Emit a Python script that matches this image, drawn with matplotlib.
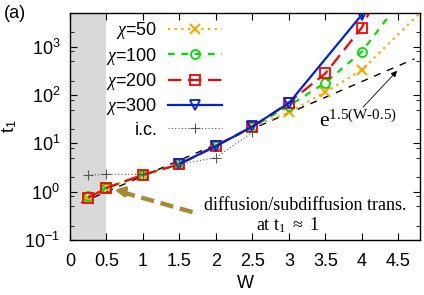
import numpy as np
import matplotlib.pyplot as plt
from matplotlib.ticker import LogLocator, NullFormatter

plt.rcParams['font.family'] = ['Liberation Sans', 'DejaVu Sans']
plt.rcParams['mathtext.fontset'] = 'custom'
plt.rcParams['mathtext.rm'] = 'Liberation Serif'
plt.rcParams['mathtext.it'] = 'Liberation Serif:italic'
plt.rcParams['mathtext.sf'] = 'Liberation Sans'

# data
w_50 = [0.25, 0.5, 1, 1.5, 2, 2.5, 3, 3.5, 4, 5]
t_50 = [0.75, 1.2, 2.25, 3.7, 9, 22, 44, 115, 330, 1.0e4]
w_100 = [0.25, 0.5, 1, 1.5, 2, 2.5, 3, 3.5, 4, 5]
t_100 = [0.8, 1.2, 2.25, 3.7, 9, 22, 60, 180, 790, 7.5e4]
w_200 = [0.25, 0.5, 1, 1.5, 2, 2.5, 3, 3.5, 4, 5]
t_200 = [0.75, 1.2, 2.25, 3.7, 9, 22, 70, 280, 2500, 3.0e6]
w_300 = [1.5, 2, 2.5, 3, 4]
t_300 = [3.8, 8.7, 22.5, 68, 4600]
w_ic = [0.25, 0.5, 1, 1.5, 2, 2.5]
t_ic = [2.2, 2.3, 2.3, 3.7, 5.1, 17]

w_fit = np.linspace(0.15, 4.72, 100)
t_fit = np.exp(1.5 * (w_fit - 0.5))

fig = plt.figure(figsize=(4.24, 2.95), dpi=100)
ax = fig.add_axes([0.165, 0.186, 0.826, 0.770])

ax.axvspan(0, 0.5, color='#d9d9d9', lw=0, zorder=0)

ax.plot(w_fit, t_fit, color='black', ls=(0, (5, 5)), lw=1.0, zorder=1)
ax.plot(w_50, t_50, color='orange', ls=(0, (1, 2)), lw=1.6, marker='x',
        ms=7, mew=1.5, label=r'$\chi$=50')
ax.plot(w_100, t_100, color='#00e000', ls=(0, (3, 3)), lw=1.6, marker='o',
        ms=6.5, mfc='none', mew=1.3, label=r'$\chi$=100')
ax.plot(w_200, t_200, color='#ff0000', ls=(0, (6, 3)), lw=1.6, marker='s',
        ms=7, mfc='none', mew=1.3, label=r'$\chi$=200')
ax.plot(w_300, t_300, color='#0022dd', ls='-', lw=1.6, marker='v',
        ms=7, mfc='none', mew=1.3, label=r'$\chi$=300')
ax.plot(w_ic, t_ic, color='#555555', ls=(0, (1, 2)), lw=0.8, marker='+',
        ms=7, mew=0.8, label='i.c.')

ax.set_yscale('log')
ax.set_xlim(0, 4.8)
ax.set_ylim(0.1, 5000)
ax.set_xticks(np.arange(0, 5, 0.5))
ax.set_xticklabels(['0', '0.5', '1', '1.5', '2', '2.5', '3', '3.5', '4', '4.5'])
ax.yaxis.set_major_locator(LogLocator(base=10, numticks=10))
ax.yaxis.set_minor_locator(LogLocator(base=10, subs=[2, 5, 8], numticks=10))
ax.yaxis.set_minor_formatter(NullFormatter())
ax.tick_params(which='both', direction='in', top=True, right=True,
               labelsize=13)
ax.tick_params(axis='x', pad=9)
ax.tick_params(axis='y', pad=7)
ax.tick_params(which='major', length=5)
ax.tick_params(which='minor', length=3)
for s in ax.spines.values():
    s.set_linewidth(1.0)

ax.set_xlabel('W', fontsize=13, labelpad=4)
ax.set_ylabel(r't$_\mathsf{1}$', fontsize=13, labelpad=4)

leg = ax.legend(loc='upper right', bbox_to_anchor=(0.44, 0.975), frameon=False,
                markerfirst=False, fontsize=13, handlelength=3.0,
                handletextpad=0.6, labelspacing=0.24, borderpad=0.1,
                borderaxespad=0, numpoints=1)

# fit annotation
ax.text(3.42, 21.5, r'$\mathrm{e}^{1.5(\mathrm{W}\text{-}0.5)}$', fontsize=15.5,
        ha='left', va='baseline')
ax.annotate('', xy=(4.51, 350), xytext=(3.99, 51),
            arrowprops=dict(arrowstyle='-|>', color='black', lw=0.6,
                            mutation_scale=9))

# transition annotation
olive = '#a88a35'
ax.plot([1.68, 0.75], [0.38, 0.95], color=olive, lw=3.2, ls=(0, (3, 1.5)))
ax.annotate('', xy=(0.57, 1.12), xytext=(0.8, 0.98),
            arrowprops=dict(arrowstyle='-|>', color=olive, lw=2.5,
                            mutation_scale=14))
ax.text(3.23, 0.53, 'diffusion/subdiffusion trans.', family='Liberation Serif',
        fontsize=13, ha='center', va='center')
ax.text(2.99, 0.2, r'at t$_1$ $\approx$ 1', family='Liberation Serif',
        fontsize=13, ha='center', va='center')

fig.text(0.008, 0.955, '(a)', fontsize=13, ha='left', va='center')

fig.savefig('out.png', dpi=100)
